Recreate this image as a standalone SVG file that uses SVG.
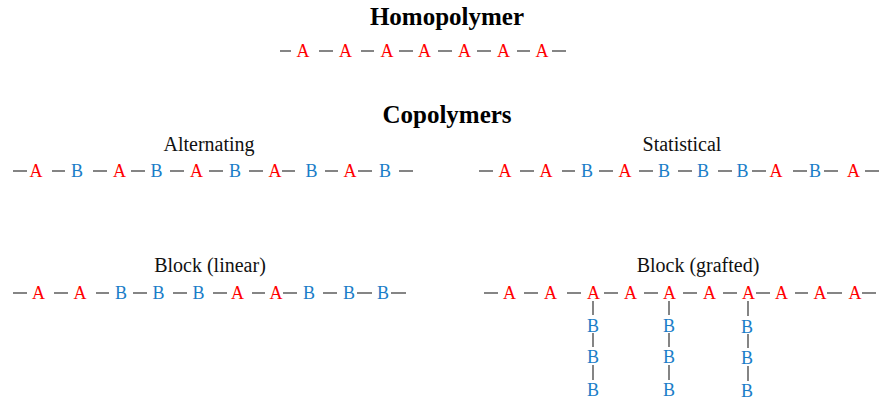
<svg xmlns="http://www.w3.org/2000/svg" width="880" height="403" viewBox="0 0 880 403">
<style>
text{font-family:"Liberation Serif","Times New Roman",serif;text-anchor:middle}
.h{font-size:25px;font-weight:bold;fill:#000}
.l{font-size:20px;fill:#111}
.a{font-size:18px;fill:#ff0000}
.b{font-size:18px;fill:#1a7dc8}
.d line{stroke:#333;stroke-width:1.2}
</style>
<rect width="880" height="403" fill="#fff"/>
<g id="titles">
<text class="h" x="447" y="25">Homopolymer</text>
<text class="h" x="447" y="123">Copolymers</text>
<text class="l" x="209" y="151">Alternating</text>
<text class="l" x="682" y="151">Statistical</text>
<text class="l" x="210" y="272">Block (linear)</text>
<text class="l" x="698" y="272">Block (grafted)</text>
</g>
<g id="homopolymer">
<g class="d" transform="translate(0,51)">
<line x1="280" x2="291"/><line x1="319" x2="333"/><line x1="361" x2="374"/><line x1="399" x2="413"/><line x1="438" x2="452"/><line x1="477" x2="491"/><line x1="517" x2="530"/><line x1="552" x2="566"/>
</g>
<g class="a">
<text x="303" y="57">A</text><text x="345.5" y="57">A</text><text x="387" y="57">A</text><text x="424.5" y="57">A</text><text x="464.5" y="57">A</text><text x="503.5" y="57">A</text><text x="542" y="57">A</text>
</g>
</g>
<g id="alternating">
<g class="d" transform="translate(0,171)">
<line x1="13" x2="27"/><line x1="52" x2="65"/><line x1="93" x2="107"/><line x1="131" x2="145"/><line x1="170" x2="184"/><line x1="209" x2="223"/><line x1="249" x2="263"/><line x1="282" x2="295"/><line x1="325" x2="338"/><line x1="358" x2="372"/><line x1="399" x2="413"/>
</g>
<text class="a" x="36" y="177">A</text><text class="b" x="77" y="177">B</text><text class="a" x="119.5" y="177">A</text><text class="b" x="156.5" y="177">B</text><text class="a" x="196.5" y="177">A</text><text class="b" x="235" y="177">B</text><text class="a" x="275" y="177">A</text><text class="b" x="311.5" y="177">B</text><text class="a" x="350" y="177">A</text><text class="b" x="385" y="177">B</text>
</g>
<g id="statistical">
<g class="d" transform="translate(0,171)">
<line x1="479" x2="493"/><line x1="520" x2="534"/><line x1="562" x2="575"/><line x1="599" x2="613"/><line x1="639" x2="653"/><line x1="678" x2="692"/><line x1="718" x2="732"/><line x1="752" x2="766"/><line x1="793" x2="807"/><line x1="824" x2="838"/><line x1="865" x2="879"/>
</g>
<text class="a" x="505" y="177">A</text><text class="a" x="546" y="177">A</text><text class="b" x="587" y="177">B</text><text class="a" x="625" y="177">A</text><text class="b" x="664" y="177">B</text><text class="b" x="703" y="177">B</text><text class="b" x="742.5" y="177">B</text><text class="a" x="776" y="177">A</text><text class="b" x="815" y="177">B</text><text class="a" x="853.5" y="177">A</text>
</g>
<g id="block-linear">
<g class="d" transform="translate(0,293)">
<line x1="13" x2="27"/><line x1="54" x2="68"/><line x1="96" x2="109"/><line x1="133" x2="147"/><line x1="173" x2="187"/><line x1="213" x2="227"/><line x1="252" x2="265"/><line x1="283" x2="297"/><line x1="323" x2="337"/><line x1="357" x2="372"/><line x1="391" x2="406"/>
</g>
<text class="a" x="38.5" y="299">A</text><text class="a" x="80" y="299">A</text><text class="b" x="121" y="299">B</text><text class="b" x="158.5" y="299">B</text><text class="b" x="198.5" y="299">B</text><text class="a" x="237.5" y="299">A</text><text class="a" x="276" y="299">A</text><text class="b" x="309" y="299">B</text><text class="b" x="349" y="299">B</text><text class="b" x="383" y="299">B</text>
</g>
<g id="block-grafted">
<g class="d" transform="translate(0,293)">
<line x1="484" x2="498"/><line x1="524" x2="538"/><line x1="567" x2="581"/><line x1="604" x2="618"/><line x1="644" x2="658"/><line x1="683" x2="697"/><line x1="723" x2="737"/><line x1="756" x2="770"/><line x1="795" x2="808"/><line x1="827" x2="842"/><line x1="862" x2="876"/>
</g>
<g class="a">
<text x="509.5" y="299">A</text><text x="550.5" y="299">A</text><text x="593.5" y="299">A</text><text x="630.5" y="299">A</text><text x="669.5" y="299">A</text><text x="709.5" y="299">A</text><text x="748.5" y="299">A</text><text x="781.5" y="299">A</text><text x="820" y="299">A</text><text x="855" y="299">A</text>
</g>
<g class="d">
<line x1="593" y1="301" x2="593" y2="315"/><line x1="593" y1="333" x2="593" y2="347"/><line x1="593" y1="365" x2="593" y2="380"/>
<line x1="669" y1="301" x2="669" y2="315"/><line x1="669" y1="333" x2="669" y2="347"/><line x1="669" y1="365" x2="669" y2="380"/>
<line x1="748" y1="301" x2="748" y2="316"/><line x1="748" y1="334" x2="748" y2="348"/><line x1="748" y1="366" x2="748" y2="381"/>
</g>
<g class="b">
<text x="593" y="332">B</text><text x="593" y="363">B</text><text x="593" y="396">B</text>
<text x="669" y="332">B</text><text x="669" y="363">B</text><text x="669" y="396">B</text>
<text x="747" y="333">B</text><text x="747" y="364">B</text><text x="747" y="397">B</text>
</g>
</g>
</svg>
